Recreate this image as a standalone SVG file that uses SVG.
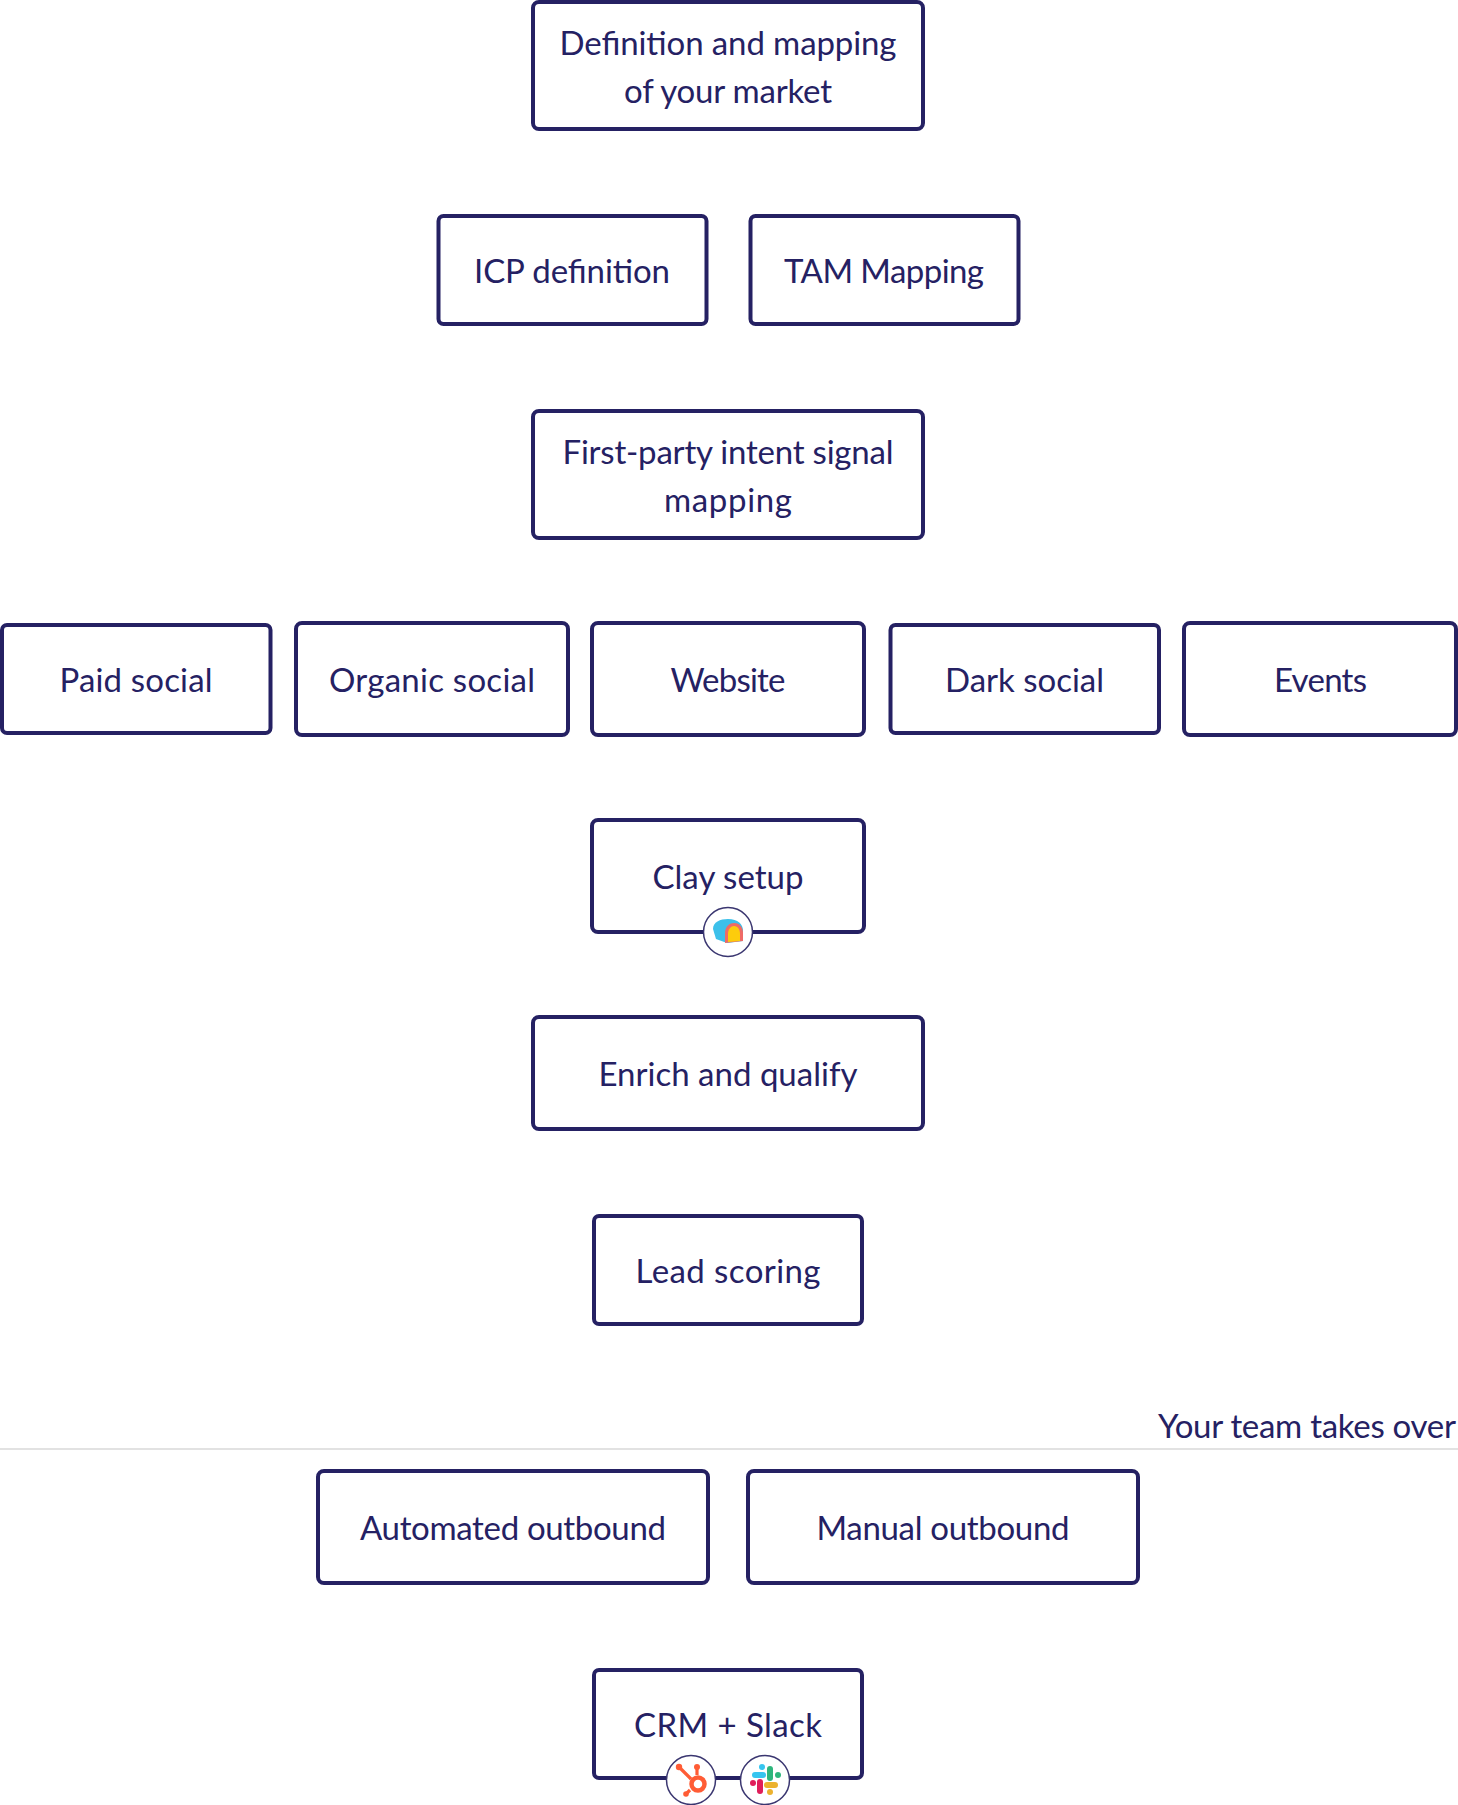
<svg xmlns="http://www.w3.org/2000/svg" width="1458" height="1805" viewBox="0 0 1458 1805">
<style>
.b{fill:#fff;stroke:#252163;stroke-width:4}
text{font-family:"Lato","Liberation Sans",sans-serif;font-size:33px;fill:#252163;text-anchor:middle}
.c{fill:#fff;stroke:#3a3670;stroke-width:1.5}
</style>
<rect width="1458" height="1805" fill="#fff"/>
<g id="connectors"></g>
<g id="n1"><rect class="b" x="533" y="2" width="390" height="127" rx="6"/><text x="728" y="55" textLength="337">Definition and mapping</text><text x="728" y="103" textLength="208">of your market</text></g>
<g id="n2"><rect class="b" x="438.5" y="216" width="268" height="108" rx="5"/><text x="572" y="283" textLength="196">ICP definition</text></g>
<g id="n3"><rect class="b" x="750.5" y="216" width="268" height="108" rx="5"/><text x="884" y="283" textLength="200">TAM Mapping</text></g>
<g id="n4"><rect class="b" x="533" y="411" width="390" height="127" rx="6"/><text x="728" y="464" textLength="331">First-party intent signal</text><text x="728" y="512" textLength="128">mapping</text></g>
<g id="n5"><rect class="b" x="2" y="625" width="268.500" height="108" rx="5"/><text x="136" y="692" textLength="153">Paid social</text></g>
<g id="n6"><rect class="b" x="296" y="623" width="272" height="112" rx="6"/><text x="432" y="692" textLength="206">Organic social</text></g>
<g id="n7"><rect class="b" x="592" y="623" width="272" height="112" rx="6"/><text x="728" y="692" textLength="115">Website</text></g>
<g id="n8"><rect class="b" x="890.500" y="625" width="268.500" height="108" rx="5"/><text x="1024.500" y="692" textLength="159">Dark social</text></g>
<g id="n9"><rect class="b" x="1184" y="623" width="272" height="112" rx="6"/><text x="1320.500" y="692" textLength="93">Events</text></g>
<g id="n10"><rect class="b" x="592" y="820" width="272" height="112" rx="6"/><text x="728" y="889" textLength="151">Clay setup</text>
<circle class="c" cx="728" cy="932" r="24.500"/>
<path d="M713 929C713 922 720 919 728 919C738 919 743 924 743 931V941L727 943L716 939Z" fill="#3cc0ea"/>
<path d="M725 943V933C725 926 730 923 734 923C740 923 743 928 743 933V941Z" fill="#ef6a66"/>
<path d="M728 942V934C728 929 731 926 734 926C738 926 740 930 740 934V941Z" fill="#fdcc0c"/></g>
<g id="n11"><rect class="b" x="533" y="1017" width="390" height="112" rx="6"/><text x="728" y="1086" textLength="259">Enrich and qualify</text></g>
<g id="n12"><rect class="b" x="594" y="1216" width="268" height="108" rx="5"/><text x="728" y="1283" textLength="185">Lead scoring</text></g>
<line x1="0" y1="1449" x2="1458" y2="1449" stroke="#d8d8d8" stroke-width="1.5"/>
<text x="1456" y="1438" textLength="298" style="text-anchor:end">Your team takes over</text>
<g id="n13"><rect class="b" x="318" y="1471" width="390" height="112" rx="6"/><text x="513" y="1540" textLength="306">Automated outbound</text></g>
<g id="n14"><rect class="b" x="748" y="1471" width="390" height="112" rx="6"/><text x="943" y="1540" textLength="253">Manual outbound</text></g>
<g id="n15"><rect class="b" x="594" y="1670" width="268" height="108" rx="5"/><text x="728" y="1737" textLength="188">CRM + Slack</text>
<circle class="c" cx="691" cy="1780" r="24.500"/>
<g fill="none" stroke="#ff5c35" stroke-width="3.200"><path d="M679 1767L691 1779M697 1767V1775M690 1790L686 1794"/><circle cx="698" cy="1784" r="6.500" stroke-width="4.500"/></g>
<g fill="#ff5c35"><circle cx="679" cy="1767" r="3.200"/><circle cx="697" cy="1767" r="3"/><circle cx="686" cy="1794" r="2.800"/></g>
<circle class="c" cx="765" cy="1780" r="24.500"/>
<g stroke-linecap="round" stroke-width="6" fill="none"><path d="M755 1775H763" stroke="#36c5f0"/><path d="M770 1769V1778" stroke="#2eb67d"/><path d="M775 1785H767" stroke="#ecb22e"/><path d="M760 1791V1782" stroke="#e01e5a"/></g>
<g><circle cx="762" cy="1767" r="3" fill="#36c5f0"/><circle cx="778" cy="1775" r="3" fill="#2eb67d"/><circle cx="770" cy="1792" r="3" fill="#ecb22e"/><circle cx="753" cy="1783" r="3" fill="#e01e5a"/></g></g>
</svg>
